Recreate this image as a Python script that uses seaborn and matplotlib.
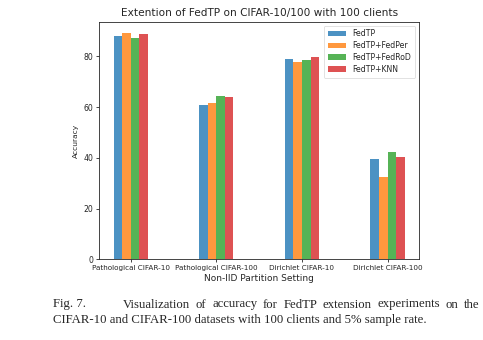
import matplotlib
matplotlib.use("Agg")
import matplotlib.pyplot as plt
from matplotlib.font_manager import FontProperties
import seaborn as sns
import pandas as pd

settings = ["Pathological CIFAR-10", "Pathological CIFAR-100", "Dirichlet CIFAR-10", "Dirichlet CIFAR-100"]
methods = ["FedTP", "FedTP+FedPer", "FedTP+FedRoD", "FedTP+KNN"]
fedtp = [88.1, 60.7, 78.9, 39.6]
fedper = [89.1, 61.5, 77.9, 32.6]
fedrod = [87.4, 64.4, 78.5, 42.2]
knn = [88.7, 64.1, 79.9, 40.5]
yticks = [0, 20, 40, 60, 80]
caption_line1 = "Visualization of accuracy for FedTP extension experiments on the"
caption_line2 = "CIFAR-10 and CIFAR-100 datasets with 100 clients and 5% sample rate."

rows = []
for m, vals in zip(methods, [fedtp, fedper, fedrod, knn]):
    for s, v in zip(settings, vals):
        rows.append({"Setting": s, "Method": m, "Accuracy": v})
df = pd.DataFrame(rows)

sns.set_style("ticks")
plt.rcParams["font.family"] = ["DejaVu Sans"]

W, H = 483, 340
fig = plt.figure(figsize=(W / 100, H / 100), dpi=100)
ax = fig.add_axes([99 / W, 1 - 259.3 / H, 320.3 / W, 237.6 / H])
palette = ["#1f77b4", "#ff7f0e", "#2ca02c", "#d62728"]
sns.barplot(data=df, x="Setting", y="Accuracy", hue="Method", hue_order=methods,
            order=settings, palette=palette, width=0.4, alpha=0.8, saturation=1,
            edgecolor="none", ax=ax)
ax.set_xlim(-0.37, 3.37)
ax.set_ylim(0, 93.7)
ax.set_yticks(yticks)
ax.tick_params(axis="x", labelsize=5.2, length=2.5, width=0.6, pad=1.5)
ax.tick_params(axis="y", labelsize=5.6, length=2.5, width=0.6, pad=1.5)
for sp in ax.spines.values():
    sp.set_linewidth(0.6)
    sp.set_visible(True)
ax.set_title("Extention of FedTP on CIFAR-10/100 with 100 clients", fontsize=7.6, pad=4)
ax.set_xlabel("Non-IID Partition Setting", fontsize=6.5, labelpad=2)
ax.set_ylabel("Accuracy", fontsize=5.4, labelpad=3.5)
leg = ax.legend(loc="upper right", fontsize=5.6, frameon=True, handlelength=2.4,
                borderpad=0.5, labelspacing=0.35)
leg.get_frame().set_linewidth(0.5)

# caption, first line justified between x=123 and x=480 px
cap_kw = dict(family="Liberation Serif", fontsize=9.2, va="baseline", ha="left")
fp = FontProperties(family="Liberation Serif", size=9.2)
renderer = fig.canvas.get_renderer()
fig.text(53 / W, 1 - 307.5 / H, "Fig. 7.", **cap_kw)
words = caption_line1.split()
widths = [renderer.get_text_width_height_descent(w, fp, ismath=False)[0] for w in words]
start, end = 123.0, 480.0
gap = (end - start - sum(widths)) / (len(words) - 1)
x = start
for w, wd in zip(words, widths):
    fig.text(x / W, 1 - 307.5 / H, w, **cap_kw)
    x += wd + gap
fig.text(53 / W, 1 - 323 / H, caption_line2, **cap_kw)

fig.savefig("out.png", dpi=100)
